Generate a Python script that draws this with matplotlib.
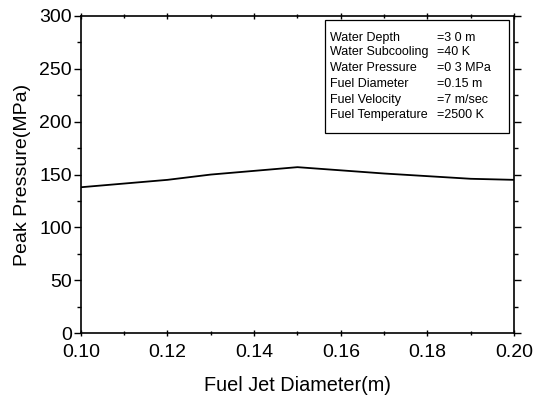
import matplotlib
matplotlib.use("Agg")
import matplotlib.pyplot as plt
from matplotlib.ticker import MultipleLocator
from matplotlib.patches import Rectangle

plt.rcParams['font.family'] = ['Liberation Sans', 'DejaVu Sans']

# Data
jet_diameter = [0.10, 0.12, 0.13, 0.15, 0.16, 0.17, 0.19, 0.20]
peak_pressure = [138, 145, 150, 157, 154, 151, 146, 145]

x_ticks = [0.10, 0.12, 0.14, 0.16, 0.18, 0.20]
x_tick_labels = ["0.10", "0.12", "0.14", "0.16", "0.18", "0.20"]
y_ticks = [0, 50, 100, 150, 200, 250, 300]

param_names = ["Water Depth", "Water Subcooling", "Water Pressure",
               "Fuel Diameter", "Fuel Velocity", "Fuel Temperature"]
param_values = ["=3 0 m", "=40 K", "=0 3 MPa", "=0.15 m", "=7 m/sec", "=2500 K"]

fig = plt.figure(figsize=(5.35, 3.99), dpi=100)
ax = fig.add_axes([0.151, 0.165, 0.810, 0.795])

ax.plot(jet_diameter, peak_pressure, color='black', linewidth=1.3)

ax.set_xlim(0.10, 0.20)
ax.set_ylim(0, 300)
ax.set_xticks(x_ticks)
ax.set_xticklabels(x_tick_labels)
ax.set_yticks(y_ticks)
ax.xaxis.set_minor_locator(MultipleLocator(0.01))
ax.yaxis.set_minor_locator(MultipleLocator(25))

ax.tick_params(axis='both', which='major', labelsize=14, length=5, width=1,
               top=True, right=True, direction='out', pad=1.5)
ax.tick_params(axis='both', which='minor', length=3, width=1,
               top=True, right=True, direction='out')
ax.tick_params(axis='x', which='both', bottom=True, direction='inout', pad=5)

for s in ax.spines.values():
    s.set_linewidth(1.2)

ax.set_xlabel("Fuel Jet Diameter(m)", fontsize=14.3, labelpad=11)
ax.set_ylabel("Peak Pressure(MPa)", fontsize=14, labelpad=6)

# Parameter box
box = Rectangle((325 / 535, 1 - 133 / 399), (509 - 325) / 535, (133 - 20) / 399,
                transform=fig.transFigure, fill=True, facecolor='white',
                edgecolor='black', linewidth=0.9, zorder=5)
fig.patches.append(box)

row_y = [38, 52, 68, 84, 100, 115]
for name, val, yy in zip(param_names, param_values, row_y):
    fig.text(330 / 535, 1 - yy / 399, name, fontsize=9, va='center', ha='left', zorder=6)
    fig.text(437 / 535, 1 - yy / 399, val, fontsize=9, va='center', ha='left', zorder=6)

fig.savefig("out.png", dpi=100)
